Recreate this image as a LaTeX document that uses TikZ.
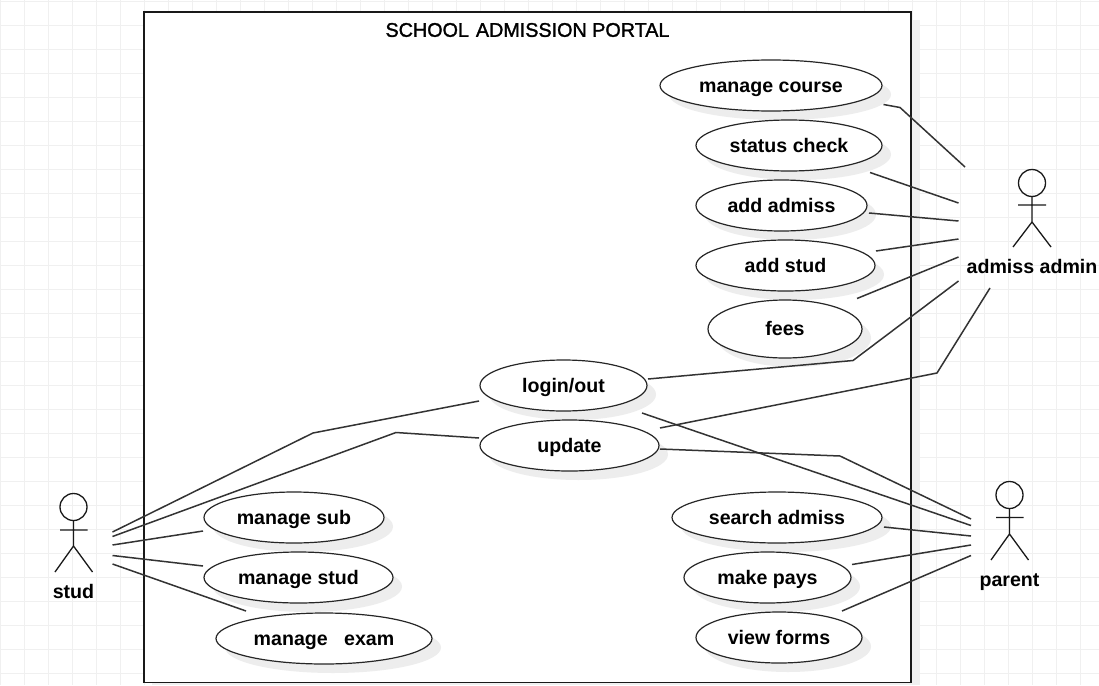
\documentclass[tikz,border=0pt]{standalone}
\usepackage{fontspec}
\setmainfont{Liberation Sans}
\newfontfamily\titlefont[FakeBold=1.5]{Liberation Sans}
\begin{document}
\begin{tikzpicture}[x=1pt,y=-1pt,
  gridline/.style={draw=black!6,line width=0.8pt},
  conn/.style={draw=black!80,line width=1.5pt,line join=miter},
  stick/.style={draw=black!90,line width=1.3pt},
  label/.style={inner sep=0pt,anchor=base,font=\fontsize{19.6}{24}\selectfont\bfseries},
  case/.style={inner sep=0pt,anchor=base,font=\fontsize{19.6}{24}\selectfont\bfseries,text=black}]
\useasboundingbox (0,0) rectangle (1099,685);
\fill[white] (0,0) rectangle (1099,685);
% canvas grid
\foreach \gx in {0,24,...,1099} \draw[gridline] (\gx,0) -- (\gx,685);
\foreach \gy in {1,25,...,685} \draw[gridline] (0,\gy) -- (1099,\gy);
% system boundary
\fill[black!6] (152,20) rectangle (920,685);
\draw[draw=black!90,fill=white,line width=1.4pt] (144,12) rectangle (911,682.5);
\node[inner sep=0pt,font=\fontsize{19.75}{24}\titlefont] (title) at (527.5,30) {SCHOOL\ \kern1.5pt ADMISSION PORTAL};
% use case shadows and ellipses
\foreach \cx/\cy/\rx/\ry in {
 771/85.5/111/25.5, 789/145.5/93/25.5, 781.5/205.5/85.5/25.5, 785.5/265.5/89.5/25.5,
 785/329/77/29, 563.5/385.5/83.5/25.5, 569.5/445.5/89.5/25.5,
 294/517.5/90/25.5, 298.5/577.5/94.5/25.5, 324/638.5/108/25.5,
 777/517.5/105/25.5, 767.5/577.5/83.5/25.5, 779/637.5/83/25.5}
  \fill[black!7] (\cx+9,\cy+9) ellipse [x radius=\rx, y radius=\ry];
\foreach \nm/\cx/\cy/\rx/\ry/\tx in {
 course/771/85.5/111/25.5/manage course,
 status/789/145.5/93/25.5/status check,
 admiss/781.5/205.5/85.5/25.5/add admiss,
 addstud/785.5/265.5/89.5/25.5/add stud,
 fees/785/329/77/29/fees,
 login/563.5/385.5/83.5/25.5/login\slash out,
 update/569.5/445.5/89.5/25.5/update,
 msub/294/517.5/90/25.5/manage sub,
 mstud/298.5/577.5/94.5/25.5/manage stud,
 mexam/324/638.5/108/25.5/manage\ \ \ exam,
 search/777/517.5/105/25.5/search admiss,
 pays/767.5/577.5/83.5/25.5/make pays,
 forms/779/637.5/83/25.5/view forms}{
  \draw[draw=black!85,fill=white,line width=1.2pt] (\cx,\cy) ellipse [x radius=\rx, y radius=\ry];
  \node[case] (\nm) at (\cx,\cy+6.5) {\tx};
}
% actors
\draw[stick] (1032,183) circle [radius=13.5];
\draw[stick] (1032,196.5) -- (1032,222) (1018,205) -- (1046,205) (1013,247) -- (1032,222) -- (1051,247);
\node[label] (admin) at (1032,273.5) {admiss admin};
\draw[stick] (73.5,507) circle [radius=13.5];
\draw[stick] (73.5,520.5) -- (73.5,546) (60,530) -- (87.5,530) (55,572) -- (73.5,546) -- (92.5,572);
\node[label] (stud) at (73.5,598.5) {stud};
\draw[stick] (1009.5,495) circle [radius=13.5];
\draw[stick] (1009.5,508.5) -- (1009.5,534) (996,517.5) -- (1023.5,517.5) (991,560) -- (1009.5,534) -- (1028.5,560);
\node[label] (parent) at (1009.5,586.5) {parent};
% connector ends
\coordinate (a1) at (965,167); \coordinate (a2) at (958.5,203); \coordinate (a3) at (958.5,221);
\coordinate (a4) at (958.5,239); \coordinate (a5) at (958.5,257); \coordinate (a6) at (958.5,281);
\coordinate (a7) at (990,288);
\coordinate (c1) at (883.5,104.5); \coordinate (c2) at (870,172.5); \coordinate (c3) at (869,213);
\coordinate (c4) at (876,251); \coordinate (c5) at (857,298.5); \coordinate (c6) at (648,379);
\coordinate (c7) at (660,428); \coordinate (c8) at (642,413); \coordinate (c9) at (660,449);
\coordinate (p1) at (971,519); \coordinate (p2) at (971,525.5); \coordinate (p3) at (971,536);
\coordinate (p4) at (971,545); \coordinate (p5) at (971,555.5);
\coordinate (c10) at (884,527); \coordinate (c11) at (852,564.5); \coordinate (c12) at (842,611);
\coordinate (s1) at (112.5,532); \coordinate (s2) at (112.5,536.5); \coordinate (s3) at (112.5,545);
\coordinate (s4) at (112.5,555.5); \coordinate (s5) at (112.5,564);
\coordinate (c13) at (479,401); \coordinate (c14) at (479,438); \coordinate (c15) at (203,531);
\coordinate (c16) at (203,566); \coordinate (c17) at (246,611);
% connectors
\draw[conn] (c1) -- (900,107.5) -- (a1);
\draw[conn] (c2) -- (a2);
\draw[conn] (c3) -- (a3);
\draw[conn] (c4) -- (a4);
\draw[conn] (c5) -- (a5);
\draw[conn] (c6) -- (853,360.5) -- (a6);
\draw[conn] (c7) -- (937,373) -- (a7);
\draw[conn] (c8) -- (p2);
\draw[conn] (c9) -- (840,456) -- (p1);
\draw[conn] (c10) -- (p3);
\draw[conn] (c11) -- (p4);
\draw[conn] (c12) -- (p5);
\draw[conn] (s1) -- (313,433) -- (c13);
\draw[conn] (s2) -- (396,432.5) -- (c14);
\draw[conn] (s3) -- (c15);
\draw[conn] (s4) -- (c16);
\draw[conn] (s5) -- (c17);
\end{tikzpicture}
\end{document}
